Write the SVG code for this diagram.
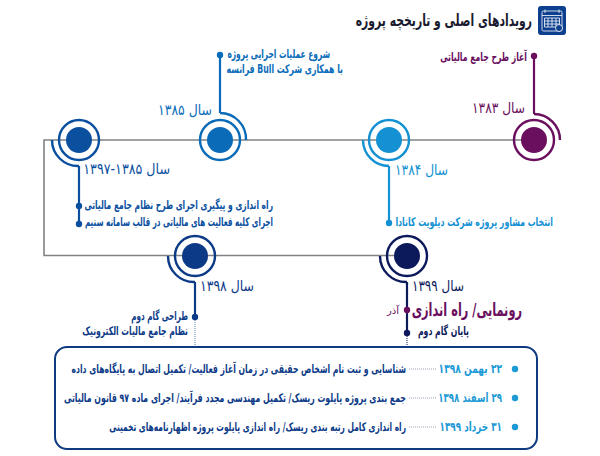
<svg xmlns="http://www.w3.org/2000/svg" width="600" height="456" viewBox="0 0 600 456">
<style>
text{font-family:"DejaVu Sans","Noto Sans",sans-serif;direction:rtl;text-anchor:start}
.n{fill:none;stroke-width:2.4}
.t{font-size:12px;font-weight:bold}
.y{font-size:15px}
.d{font-size:13px;font-weight:bold}
.l{stroke-width:2.2}
.dash{stroke-dasharray:1 1;stroke-width:1;fill:none}
</style>
<rect width="600" height="456" fill="#fff"/>
<g id="connectors" fill="none">
<path d="M534 140H44V255.500H407" stroke="#808285" stroke-width="1.600"/>
<path d="M534 56V114" stroke="#6a0f5e" class="l"/>
<path d="M389 166V223" stroke="#1391d2" class="l"/>
<path d="M220 55V113" stroke="#0a6cb8" class="l"/>
<path d="M79 166V224" stroke="#0b4f9f" class="l"/>
<path d="M195 282V317" stroke="#0d3a87" class="l"/>
<path d="M407 282V333" stroke="#0c1a5c" class="l"/>
<path d="M195 320V347" stroke="#5d7fb5" class="dash"/>
<path d="M407 336V347" stroke="#0c1a5c" class="dash"/>
<path d="M409 369H436M409 398H436M409 427H436" stroke="#9aa5b5" class="dash"/>
</g>
<g id="title">
<rect x="538" y="6" width="28" height="29" rx="3" fill="#0d3f8f"/>
<g fill="none" stroke="#fff" stroke-width="0.800">
<rect x="542" y="11" width="20" height="20" rx="1.500"/>
<path d="M542 15.500H562M545 9.500V13M559 9.500V13M544.500 18H559.500V27H544.500ZM544.500 21H559.500M544.500 24H559.500M548 18V27M552 18V27M556 18V27"/>
</g>
<circle cx="559" cy="28" r="3.500" fill="#0d3f8f" stroke="#fff" stroke-width="0.800"/>
<text transform="translate(532 26) scale(.657 1)" font-size="16.500" font-weight="bold" fill="#1a1a2e">رویدادهای اصلی و تاریخچه پروژه</text>
</g>
<g id="node-1383" stroke="#6a0f5e">
<circle cx="534" cy="140" r="20" class="n"/>
<circle cx="534" cy="140" r="13" fill="#6a0f5e" stroke="none"/>
<path d="M534 114A26 26 0 0 1 560 140" class="n"/>
<circle cx="534" cy="56" r="3.200" fill="#6a0f5e" stroke="none"/>
<g stroke="none" fill="#6a0f5e">
<text transform="translate(527 61) scale(.644 1)" class="t">آغاز طرح جامع مالیاتی</text>
<text transform="translate(525 113) scale(.815 1)" class="y">سال ۱۳۸۳</text>
</g>
</g>
<g id="node-1384" stroke="#1391d2">
<circle cx="389" cy="140" r="20" class="n"/>
<circle cx="389" cy="140" r="13" fill="#1391d2" stroke="none"/>
<path d="M363 140A26 26 0 0 0 389 166" class="n"/>
<circle cx="389" cy="223" r="3.200" fill="#1391d2" stroke="none"/>
<g stroke="none" fill="#1391d2">
<text transform="translate(448 175) scale(.815 1)" class="y">سال ۱۳۸۴</text>
<text transform="translate(553 226) scale(.653 1)" class="t">انتخاب مشاور پروژه شرکت دیلویت کانادا</text>
</g>
</g>
<g id="node-1385" stroke="#0a6cb8">
<circle cx="220" cy="140" r="20" class="n"/>
<circle cx="220" cy="140" r="13" fill="#0a6cb8" stroke="none"/>
<path d="M220 113A26 26 0 0 1 246 140" class="n"/>
<circle cx="220" cy="55" r="3.200" fill="#0a6cb8" stroke="none"/>
<g stroke="none" fill="#0a6cb8">
<text transform="translate(212 115) scale(.83 1)" class="y">سال ۱۳۸۵</text>
<text transform="translate(330 58) scale(.624 1)" class="t">شروع عملیات اجرایی پروژه</text>
<text transform="translate(343 73) scale(.648 1)" class="t">با همکاری شرکت Bull فرانسه</text>
</g>
</g>
<g id="node-1397" stroke="#0b4f9f">
<circle cx="79" cy="140" r="20" class="n"/>
<circle cx="79" cy="140" r="13" fill="#0b4f9f" stroke="none"/>
<path d="M52 140A26 26 0 0 0 79 166" class="n"/>
<circle cx="79" cy="206" r="3.200" fill="#0b4f9f" stroke="none"/>
<circle cx="79" cy="224" r="3.200" fill="#0b4f9f" stroke="none"/>
<g stroke="none" fill="#0b4f9f">
<text transform="translate(170 174) scale(.845 1)" class="y">سال ۱۳۸۵-۱۳۹۷</text>
<text transform="translate(273 209) scale(.629 1)" class="t">راه اندازی و پیگیری اجرای طرح نظام جامع مالیاتی</text>
<text transform="translate(273 226) scale(.6 1)" class="t">اجرای کلیه فعالیت های مالیاتی در قالب سامانه سنیم</text>
</g>
</g>
<g id="node-1398" stroke="#0d3a87">
<circle cx="195" cy="256" r="20" class="n"/>
<circle cx="195" cy="256" r="13" fill="#0d3a87" stroke="none"/>
<path d="M168 256A26 26 0 0 0 195 282" class="n"/>
<circle cx="195" cy="317" r="3.200" fill="#0d3a87" stroke="none"/>
<g stroke="none" fill="#0d3a87">
<text transform="translate(254 291) scale(.83 1)" class="y">سال ۱۳۹۸</text>
<text transform="translate(188 320) scale(.6 1)" class="t">طراحی گام دوم</text>
<text transform="translate(188 335) scale(.639 1)" class="t">نظام جامع مالیات الکترونیک</text>
</g>
</g>
<g id="node-1399" stroke="#0c1a5c">
<circle cx="407" cy="256" r="20" class="n"/>
<circle cx="407" cy="256" r="13" fill="#0c1a5c" stroke="none"/>
<path d="M380 256A26 26 0 0 0 407 282" class="n"/>
<circle cx="407" cy="310" r="3.200" fill="#6a0f5e" stroke="none"/>
<circle cx="407" cy="333" r="3.200" fill="#0c1a5c" stroke="none"/>
<g stroke="none">
<text transform="translate(464 291) scale(.8 1)" class="y" fill="#0c1a5c">سال ۱۳۹۹</text>
<text transform="translate(522 316) scale(.632 1)" font-size="18" font-weight="bold" fill="#6a0f5e">رونمایی/ راه اندازی</text>
<text x="399" y="314" font-size="10" fill="#6a0f5e">آذر</text>
<text transform="translate(469 335) scale(.645 1)" class="t" fill="#0c1a5c">پایان گام دوم</text>
</g>
</g>
<g id="milestones">
<rect x="55" y="347" width="482" height="102" rx="12" fill="none" stroke="#0e3a80" stroke-width="2"/>
<g fill="#1c9ad6">
<circle cx="515" cy="369" r="3.200"/><circle cx="515" cy="398" r="3.200"/><circle cx="515" cy="427" r="3.200"/>
<text transform="translate(502 373) scale(.7 1)" class="d">۲۲ بهمن ۱۳۹۸</text>
<text transform="translate(502 402) scale(.663 1)" class="d">۲۹ اسفند ۱۳۹۸</text>
<text transform="translate(502 431) scale(.68 1)" class="d">۳۱ خرداد ۱۳۹۹</text>
</g>
<g fill="#0d3a87">
<text transform="translate(406 373) scale(.642 1)" class="t">شناسایی و ثبت نام اشخاص حقیقی در زمان آغاز فعالیت/ تکمیل اتصال به پایگاه‌های داده</text>
<text transform="translate(406 402) scale(.651 1)" class="t">جمع بندی پروژه پایلوت ریسک/ تکمیل مهندسی مجدد فرآیند/ اجرای ماده ۹۷ قانون مالیاتی</text>
<text transform="translate(406 431) scale(.625 1)" class="t">راه اندازی کامل رتبه بندی ریسک/ راه اندازی پایلوت پروژه اظهارنامه‌های تخمینی</text>
</g>
</g>
</svg>
